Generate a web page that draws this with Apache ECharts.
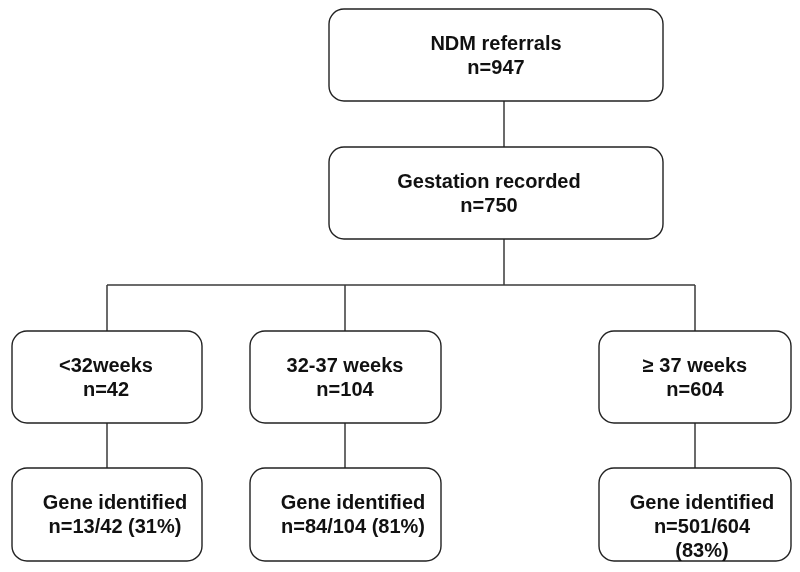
<!DOCTYPE html>
<html>
<head>
<meta charset="utf-8">
<script src="https://cdn.jsdelivr.net/npm/echarts@6/dist/echarts.min.js"></script>
<style>
html,body{margin:0;padding:0;background:#fff;}
#chart{width:800px;height:572px;}
</style>
</head>
<body>
<div id="chart"></div>
<script>
// ---- data ----
const stageTitles = ['NDM referrals', 'Gestation recorded'];
const stageN = [947, 750];
const groupLabels = ['<32weeks', '32-37 weeks', '\u2265 37 weeks'];
const groupN = [42, 104, 604];
const geneLabel = 'Gene identified';
const geneIdentified = [13, 84, 501];
const genePct = [31, 81, 83];

// ---- layout (diagram geometry, pixel space of a hidden 800x572 cartesian grid) ----
const rowTop = [9, 147, 331, 468];
const rowBottom = [101, 239, 423, 561];
const stageCol = [329, 663];
const groupCols = [[12, 202], [250, 441], [599, 791]];
const stemX = 504;
const dropX = [107, 345, 695];
const busY = 285;
const stageTextX = [496, 489];
const groupTextX = [106, 345, 695];
const geneTextX = [115, 353, 702];
const geneSep = [' ', ' ', '\n'];

const boxes = [];
stageTitles.forEach((t, i) => {
  boxes.push({ value: [stageCol[0], rowTop[i], stageCol[1], rowBottom[i], stageTextX[i]], text: t + '\nn=' + stageN[i] });
});
groupLabels.forEach((g, i) => {
  boxes.push({ value: [groupCols[i][0], rowTop[2], groupCols[i][1], rowBottom[2], groupTextX[i]], text: g + '\nn=' + groupN[i] });
});
geneIdentified.forEach((v, i) => {
  boxes.push({ value: [groupCols[i][0], rowTop[3], groupCols[i][1], rowBottom[3], geneTextX[i]],
    text: geneLabel + '\nn=' + v + '/' + groupN[i] + geneSep[i] + '(' + genePct[i] + '%)' });
});

const connectors = [
  [[stemX, rowBottom[0]], [stemX, rowTop[1]]],
  [[stemX, rowBottom[1]], [stemX, busY]],
  [[dropX[0], busY], [dropX[2], busY]]
];
dropX.forEach(x => {
  connectors.push([[x, busY], [x, rowTop[2]]]);
  connectors.push([[x, rowBottom[2]], [x, rowTop[3]]]);
});

const FONT = 'bold 20px "Liberation Sans", Arial, sans-serif';

const chart = echarts.init(document.getElementById('chart'), null, { renderer: 'canvas' });
chart.setOption({
  animation: false,
  backgroundColor: '#ffffff',
  grid: { left: 0, right: 0, top: 0, bottom: 0 },
  xAxis: { type: 'value', min: 0, max: 800, show: false },
  yAxis: { type: 'value', min: 0, max: 572, inverse: true, show: false },
  series: [
    {
      type: 'custom',
      coordinateSystem: 'cartesian2d',
      silent: true,
      data: connectors.map((c, i) => ({ value: [i] })),
      renderItem: function (params, api) {
        const c = connectors[params.dataIndex];
        return {
          type: 'polyline',
          shape: { points: c.map(p => api.coord(p)) },
          style: { stroke: '#3a3a3a', lineWidth: 1.5, fill: null }
        };
      }
    },
    {
      type: 'custom',
      coordinateSystem: 'cartesian2d',
      silent: true,
      data: boxes.map(b => ({ value: b.value })),
      renderItem: function (params, api) {
        const p0 = api.coord([api.value(0), api.value(1)]);
        const p1 = api.coord([api.value(2), api.value(3)]);
        const tx = api.coord([api.value(4), api.value(1)])[0];
        return {
          type: 'group',
          children: [
            {
              type: 'rect',
              shape: { x: p0[0], y: p0[1], width: p1[0] - p0[0], height: p1[1] - p0[1], r: 15 },
              style: { fill: '#ffffff', stroke: '#222222', lineWidth: 1.4 }
            },
            {
              type: 'text',
              style: {
                text: boxes[params.dataIndex].text,
                x: tx,
                y: p0[1] + 23,
                font: FONT,
                fill: '#111111',
                align: 'center',
                verticalAlign: 'top',
                lineHeight: 24
              }
            }
          ]
        };
      }
    }
  ]
});
</script>
</body>
</html>
